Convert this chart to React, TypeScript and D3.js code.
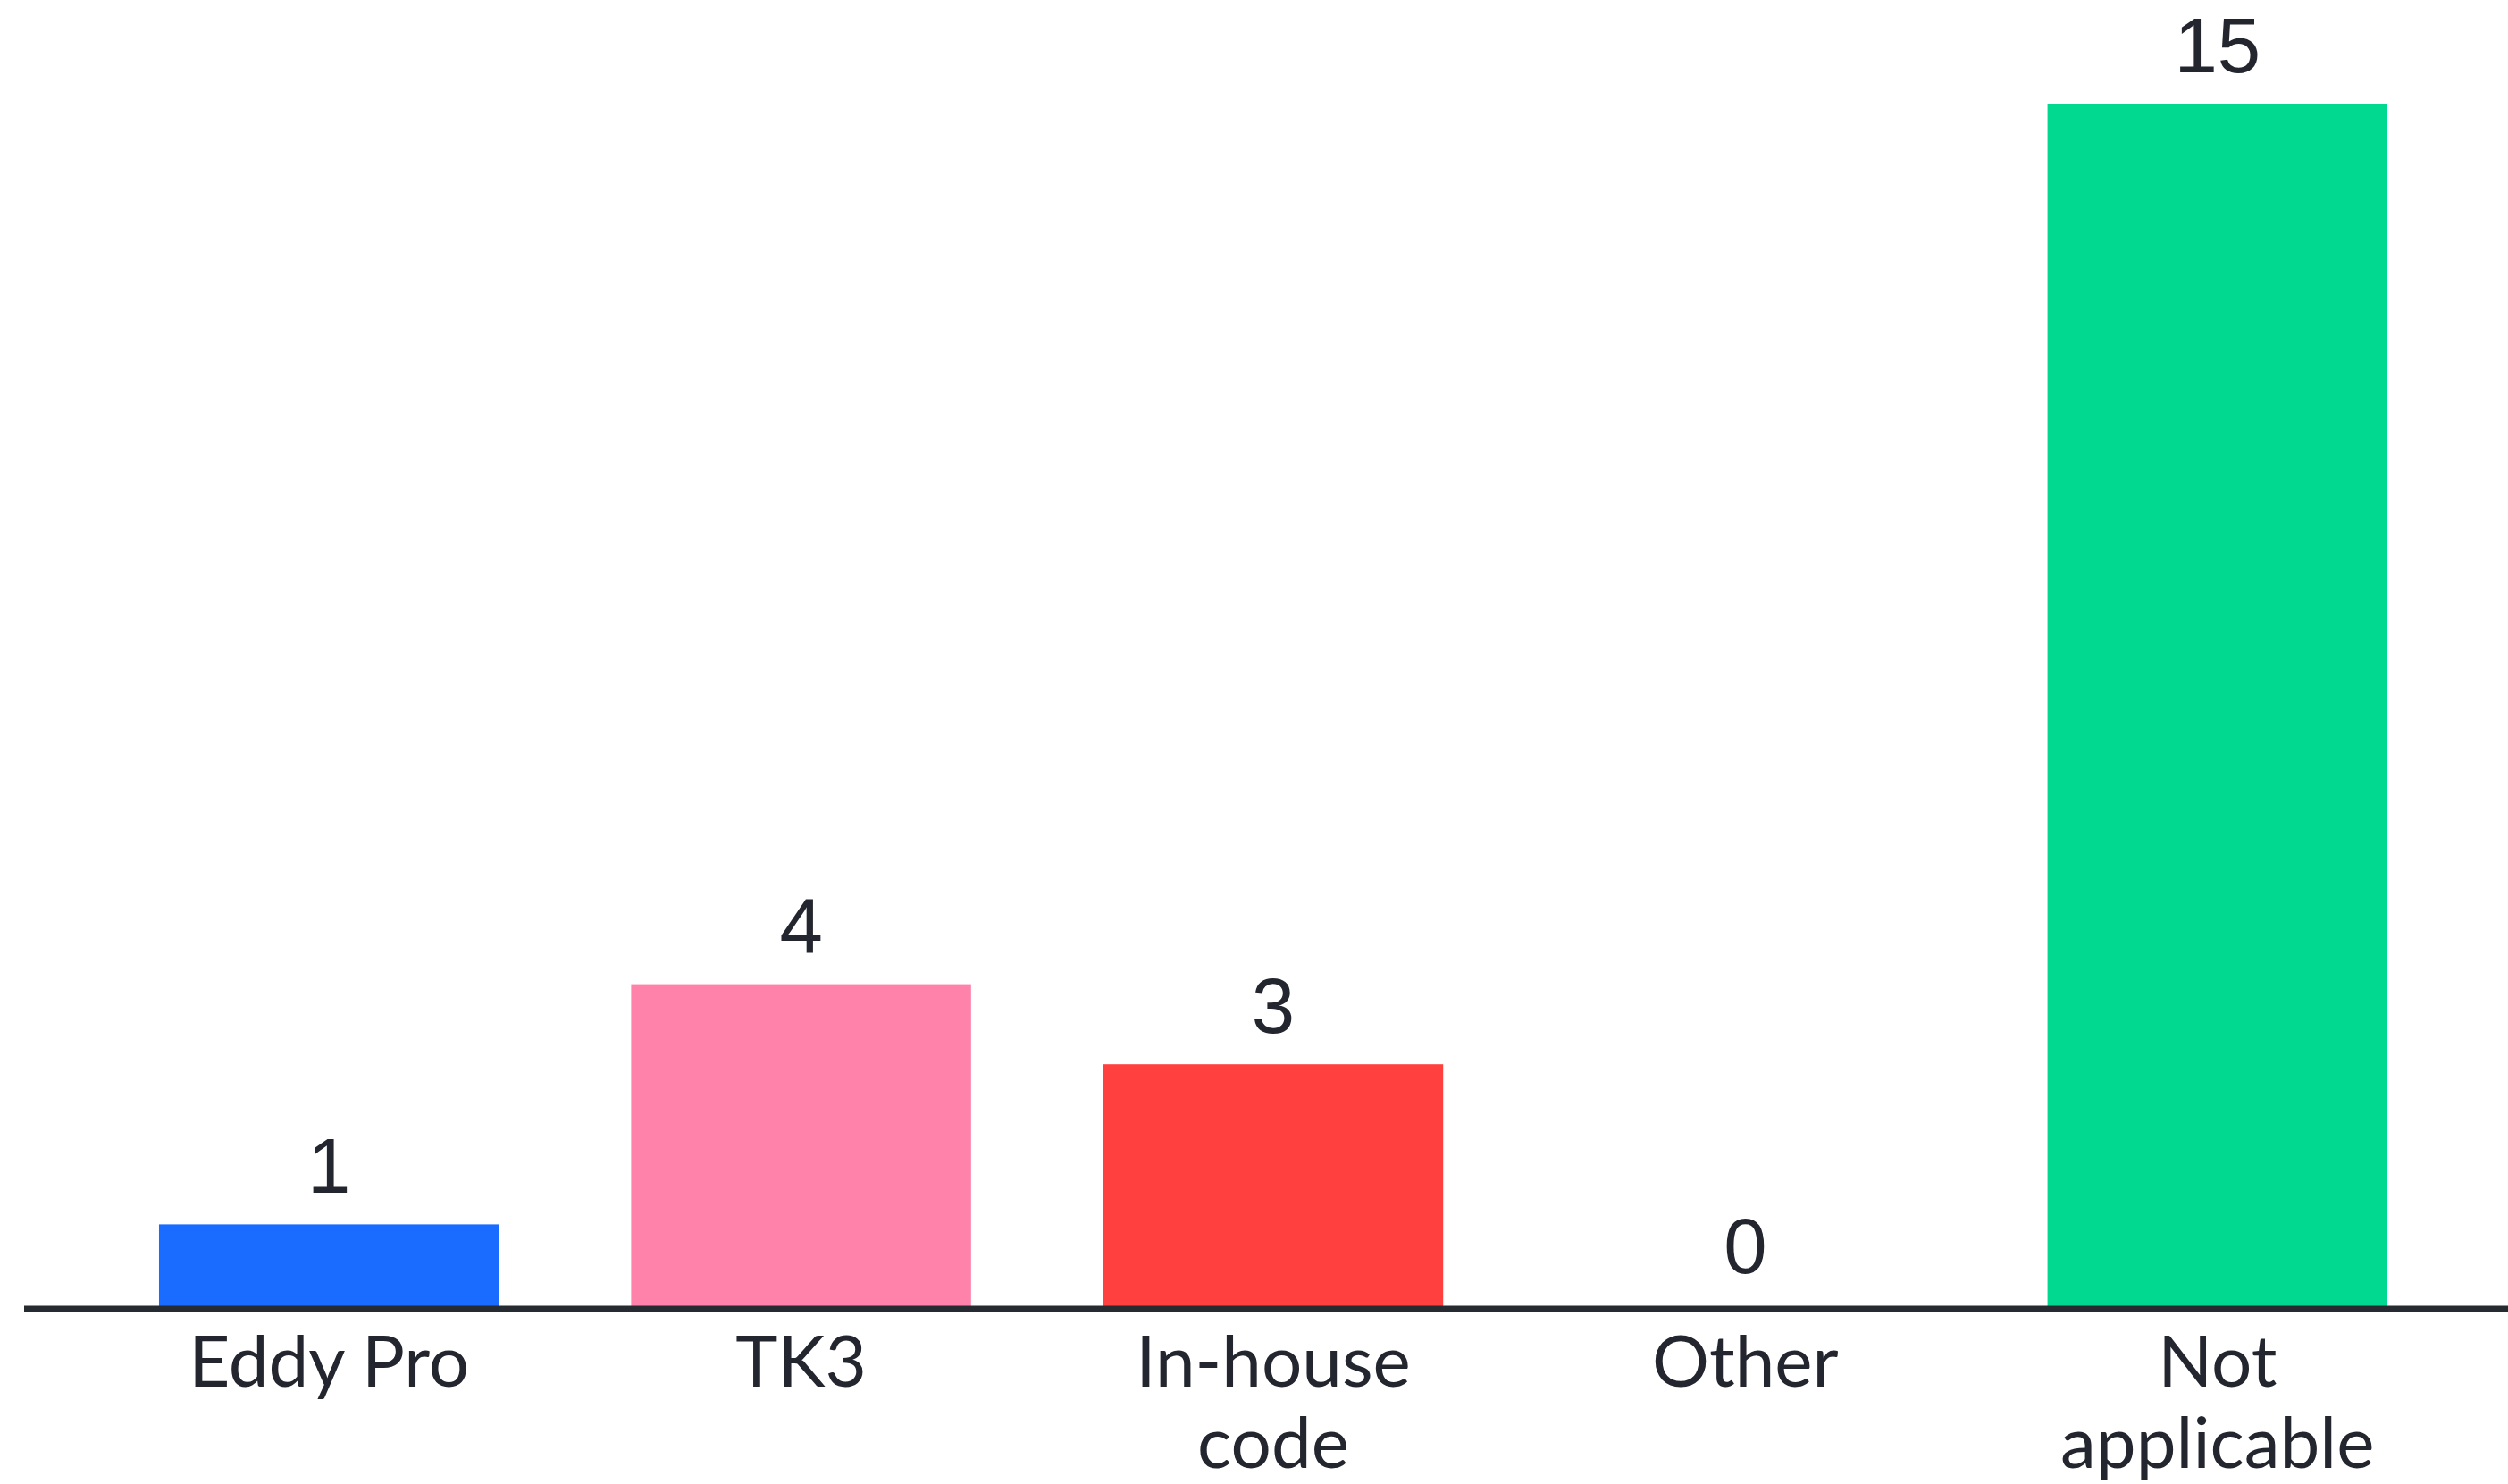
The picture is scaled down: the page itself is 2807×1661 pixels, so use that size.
import React from "react";
import * as d3 from "d3";

const categories: string[][] = [["Eddy Pro"], ["TK3"], ["In-house", "code"], ["Other"], ["Not", "applicable"]];
const values: number[] = [1, 4, 3, 0, 15];
const colors: string[] = ["#1a6bff", "#ff82ab", "#ff403e", "#8a8a8a", "#02d990"];

const W = 2807;
const H = 1661;

export default function App() {
  const keys = categories.map((c) => c.join(" "));
  const x = d3.scaleBand<string>().domain(keys).range([104, 2746]).paddingInner(0.28).paddingOuter(0.14);
  const y = d3.scaleLinear().domain([0, 15]).range([1460, 116]);
  const textColor = "#23262e";
  return (
    <div style={{ position: "absolute", left: 0, top: 0 }}>
      <svg width={W} height={H} style={{ display: "block", background: "#fff" }}>
        {keys.map((k, i) =>
          values[i] > 0 ? (
            <rect key={k} x={x(k)} y={y(values[i])} width={x.bandwidth()} height={y(0) - y(values[i]) + 3} fill={colors[i]} />
          ) : null
        )}
        <line x1={27} x2={W} y1={1465} y2={1465} stroke="#262a31" strokeWidth={7} />
        {keys.map((k, i) => (
          <text
            key={"v" + k}
            x={(x(k) as number) + x.bandwidth() / 2}
            y={y(values[i]) - 35}
            textAnchor="middle"
            fontFamily="'Liberation Sans', Arial, sans-serif"
            fontSize={87}
            fill={textColor}
          >
            {values[i]}
          </text>
        ))}
        {categories.map((lines, i) => (
          <text
            key={"c" + i}
            x={(x(keys[i]) as number) + x.bandwidth() / 2}
            y={1552}
            textAnchor="middle"
            fontFamily="Lato, sans-serif"
            fontSize={80}
            fill={textColor}
          >
            {lines.map((l, j) => (
              <tspan key={j} x={(x(keys[i]) as number) + x.bandwidth() / 2} dy={j === 0 ? 0 : 91}>
                {l}
              </tspan>
            ))}
          </text>
        ))}
      </svg>
    </div>
  );
}
